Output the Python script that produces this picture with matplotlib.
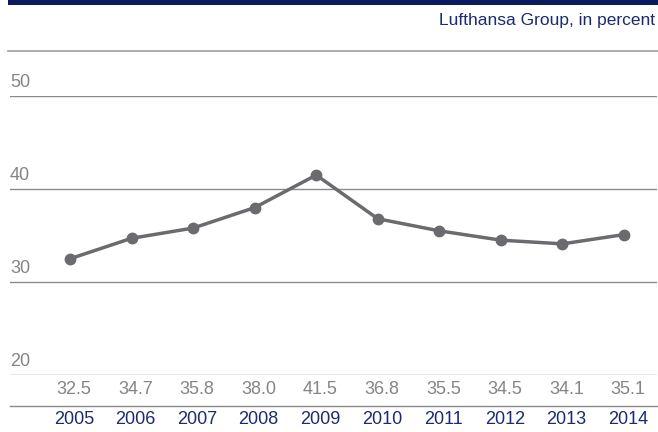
import matplotlib.pyplot as plt
from matplotlib.lines import Line2D
from matplotlib.patches import Rectangle
from matplotlib.transforms import blended_transform_factory

# ---- data ----
years = ["2005", "2006", "2007", "2008", "2009", "2010", "2011", "2012", "2013", "2014"]
values = [32.5, 34.7, 35.8, 38.0, 41.5, 36.8, 35.5, 34.5, 34.1, 35.1]
y_ticks = [20, 30, 40, 50]
subtitle = "Lufthansa Group, in percent"

NAVY = "#1b2a72"
GRID = "#8a8a8a"
LABEL_GRAY = "#858585"
LINE_GRAY = "#6b6b6f"

plt.rcParams['font.family'] = ['Liberation Sans', 'DejaVu Sans']

W, H = 658, 432
fig = plt.figure(figsize=(W / 100, H / 100), dpi=100)

def fx(px):
    return px / W

def fy(py):
    return 1 - py / H

# plot area: x 10..657 px, y=20 at 375 px, y=50 at 96 px
ax = fig.add_axes([fx(10), fy(375), fx(657) - fx(10), fy(96) - fy(375)])
ax.set_ylim(20, 50)
step = (624 - 70) / 9
ax.set_xlim(-(70 - 10) / step, 9 + (657 - 624) / step)
ax.axis("off")

xs = list(range(len(years)))

trans = blended_transform_factory(ax.transAxes, ax.transData)
for t in y_ticks:
    ax.axhline(t, color=GRID, lw=1.0, zorder=1)
    ax.text(0.0, t + 0.5, str(t), transform=trans, ha="left", va="bottom",
            fontsize=13, color=LABEL_GRAY)

ax.plot(xs, values, color=LINE_GRAY, lw=2.5, marker="o", markersize=7.5,
        zorder=3, clip_on=False)

# value row and year row under the plot
for x, v, yr in zip(xs, values, years):
    px = ax.transData.transform((x, 20))[0]
    fig.text(fx(px + 4), fy(389), f"{v:.1f}", ha="center", va="center",
             fontsize=13, color=LABEL_GRAY)
    fig.text(fx(px + 4), fy(420), yr, ha="center", va="center",
             fontsize=13, color=NAVY)

# separators
fig.add_artist(Line2D([fx(10), fx(657)], [fy(406), fy(406)], color=GRID, lw=1.0))
fig.add_artist(Line2D([fx(8), fx(658)], [fy(51), fy(51)], color="#a0a0a0", lw=1.2))

# top navy bar
fig.add_artist(Rectangle((fx(8), fy(5)), 1 - fx(8), fy(0) - fy(5),
                         transform=fig.transFigure, color="#0b1a5e", lw=0))

fig.text(fx(655), fy(20), subtitle, ha="right", va="center",
         fontsize=12.5, color=NAVY)

fig.savefig("out.png", dpi=100)
